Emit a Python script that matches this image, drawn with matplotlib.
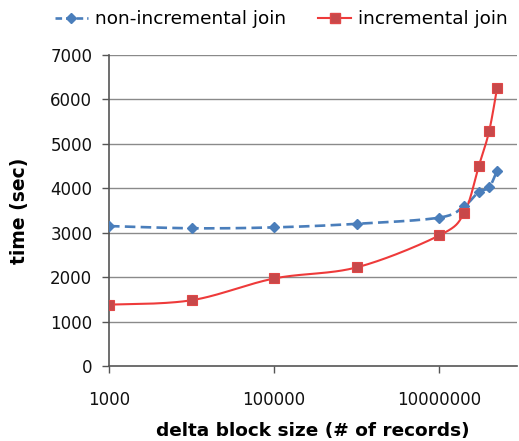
import numpy as np
import matplotlib
matplotlib.use("Agg")
import matplotlib.pyplot as plt
from matplotlib.lines import Line2D

block_size = [1000, 10000, 100000, 1000000, 10000000, 20000000, 30000000, 40000000, 50000000]
non_incremental = [3150, 3100, 3120, 3200, 3340, 3600, 3920, 4020, 4400]
incremental = [1380, 1480, 1970, 2220, 2940, 3450, 4500, 5280, 6260]
x_ticks = [1000, 100000, 10000000]
x_tick_labels = ["1000", "100000", "10000000"]
y_ticks = [0, 1000, 2000, 3000, 4000, 5000, 6000, 7000]

BLUE = "#4a7ebb"
RED = "#ee3a3a"
RED_MK = "#c8484a"

# pixel-like aspect for smoothing (px per decade, px per 1000 sec)
PX_DEC = 82.6
PX_Y = 44.4 / 1000.0


def smooth(xs, ys, n=40):
    u = np.log10(np.asarray(xs, float)) * PX_DEC
    v = np.asarray(ys, float) * PX_Y
    P = np.column_stack([u, v])
    m = len(P)
    out = []
    for i in range(m - 1):
        p0 = P[i - 1] if i > 0 else P[i]
        p1 = P[i]
        p2 = P[i + 1]
        p3 = P[i + 2] if i + 2 < m else P[i + 1]
        c1 = p1 + (p2 - p0) / 6.0
        c2 = p2 - (p3 - p1) / 6.0
        t = np.linspace(0, 1, n)[:, None]
        seg = ((1 - t) ** 3) * p1 + 3 * ((1 - t) ** 2) * t * c1 + 3 * (1 - t) * t ** 2 * c2 + t ** 3 * p2
        out.append(seg if i == 0 else seg[1:])
    S = np.vstack(out)
    return 10 ** (S[:, 0] / PX_DEC), S[:, 1] / PX_Y


fig = plt.figure(figsize=(5.19, 4.41), dpi=100)
ax = fig.add_axes([109 / 519, 1 - 366 / 441, (517 - 109) / 519, (366 - 55) / 441])
ax.set_xscale("log")
ax.set_xlim(1000, 10 ** 7.94)
ax.set_ylim(0, 7000)

for yv in y_ticks[1:]:
    ax.axhline(yv, color="#8a8a8a", lw=1.0, zorder=0)

sx, sy = smooth(block_size, non_incremental)
ax.plot(sx, sy, color=BLUE, lw=1.9, ls=(0, (4, 2.0)), zorder=3)
ax.plot(block_size, non_incremental, ls="none", marker="D", ms=5.5, color=BLUE, zorder=4)

sx, sy = smooth(block_size, incremental)
ax.plot(sx, sy, color=RED, lw=1.5, zorder=3)
ax.plot(block_size, incremental, ls="none", marker="s", ms=6.5, mfc=RED_MK, mec="#e04848", mew=0.8, zorder=4)

ax.set_xticks(x_ticks)
ax.set_xticklabels(x_tick_labels)
ax.xaxis.set_minor_locator(matplotlib.ticker.NullLocator())
ax.set_yticks(y_ticks)
ax.tick_params(axis="both", direction="out", length=5, width=1, color="#555555", labelsize=12, labelcolor="#111111")
ax.tick_params(axis="x", pad=13)
ax.tick_params(axis="y", pad=7)

for s in ["top", "right"]:
    ax.spines[s].set_visible(False)
for s in ["left", "bottom"]:
    ax.spines[s].set_color("#555555")
    ax.spines[s].set_linewidth(1.2)

ax.set_xlabel("delta block size (# of records)", fontsize=13.3, fontweight="bold", labelpad=9)
ax.set_ylabel("time (sec)", fontsize=13.5, fontweight="bold", labelpad=15)

handles = [
    Line2D([], [], color=BLUE, lw=1.9, ls=(0, (2.5, 1.5)), marker="D", ms=5.5),
    Line2D([], [], color=RED, lw=1.5, marker="s", ms=6.5, mfc=RED_MK, mec="#e04848"),
]
fig.legend(handles, ["non-incremental join", "incremental join"], loc="upper left",
           bbox_to_anchor=(0.073, 1.015), ncol=2, frameon=False, fontsize=13.3,
           handlelength=1.8, handletextpad=0.37, columnspacing=1.75)

fig.savefig("out.png", dpi=100)
